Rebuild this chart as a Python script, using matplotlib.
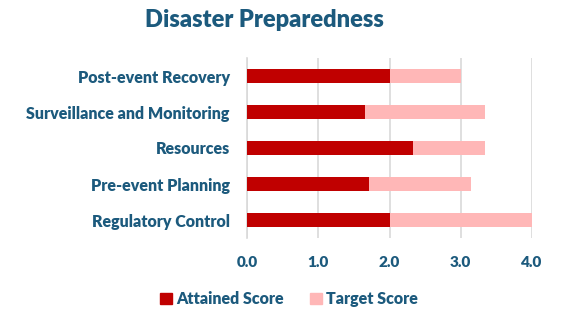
import matplotlib
matplotlib.use("Agg")
import matplotlib.pyplot as plt
from matplotlib.patches import Patch

categories = ["Regulatory Control", "Pre-event Planning", "Resources",
              "Surveillance and Monitoring", "Post-event Recovery"]
attained = [2.0, 1.71, 2.33, 1.66, 2.0]
target = [4.0, 3.14, 3.34, 3.34, 3.0]
xticks = [0.0, 1.0, 2.0, 3.0, 4.0]

TXT = "#1C5A7D"
RED = "#C00000"
PINK = "#FFB7B7"
FONT = "Lato"

fig = plt.figure(figsize=(5.67, 3.13), dpi=100)
ax = fig.add_axes([247/567, 1-238/313, (532-247)/567, 180/313])

y = range(len(categories))
ax.barh(y, target, height=0.39, color=PINK, zorder=2)
ax.barh(y, attained, height=0.39, color=RED, zorder=3)

ax.set_xlim(0, 4)
ax.set_ylim(-0.5, len(categories) - 0.5)
ax.set_xticks(xticks)
ax.set_xticklabels([f"{v:.1f}" for v in xticks], fontfamily=FONT,
                   fontweight="heavy", fontsize=11, color=TXT)
ax.set_yticks(list(y))
ax.set_yticklabels(categories, fontfamily=FONT, fontweight="heavy",
                   fontsize=11.5, color=TXT)
ax.tick_params(axis="both", length=0)
ax.tick_params(axis="x", pad=13)
ax.tick_params(axis="y", pad=12.5)
ax.grid(axis="x", color="#D9D9D9", linewidth=1.2, zorder=0)
for s in ["top", "right", "bottom"]:
    ax.spines[s].set_visible(False)
ax.spines["left"].set_color("#D9D9D9")
ax.spines["left"].set_linewidth(1.2)

fig.text(264/567, 1-20/313, "Disaster Preparedness", ha="center", va="center",
         fontfamily=FONT, fontweight="heavy", fontsize=17, color=TXT)

handles = [Patch(color=RED, label="Attained Score"),
           Patch(color=PINK, label="Target Score")]
leg = fig.legend(handles=handles, loc="center", bbox_to_anchor=(289/567, 1-299/313),
                 ncol=2, frameon=False, handlelength=0.75, handleheight=0.75,
                 handletextpad=0.3, columnspacing=1.6,
                 prop={"family": FONT, "weight": "heavy", "size": 11.5})
for t in leg.get_texts():
    t.set_color(TXT)

fig.savefig("out.png", dpi=100)
